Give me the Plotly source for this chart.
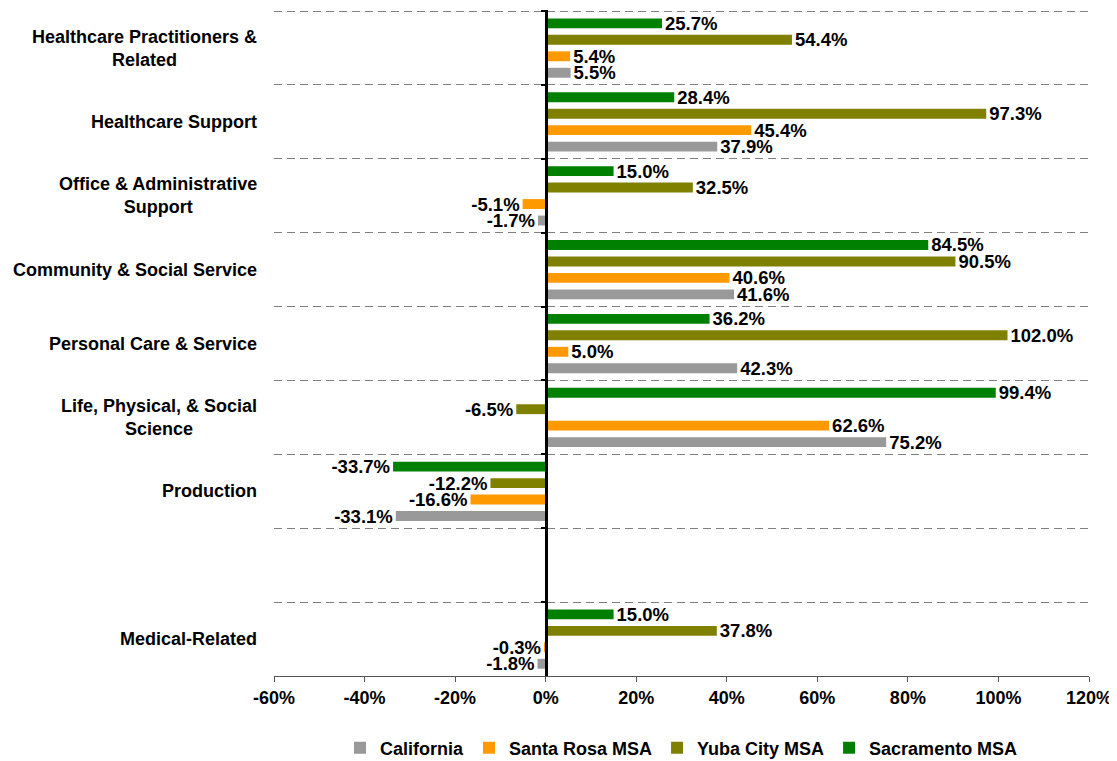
import plotly.graph_objects as go

categories = [
    "Healthcare Practitioners &<br>Related",
    "Healthcare Support",
    "Office & Administrative<br>Support",
    "Community & Social Service",
    "Personal Care & Service",
    "Life, Physical, & Social<br>Science",
    "Production",
    " ",
    "Medical-Related",
]
data_categories = [c for c in categories if c.strip()]

sacramento = [25.7, 28.4, 15.0, 84.5, 36.2, 99.4, -33.7, 15.0]
yuba_city = [54.4, 97.3, 32.5, 90.5, 102.0, -6.5, -12.2, 37.8]
santa_rosa = [5.4, 45.4, -5.1, 40.6, 5.0, 62.6, -16.6, -0.3]
california = [5.5, 37.9, -1.7, 41.6, 42.3, 75.2, -33.1, -1.8]

series = [
    ("Sacramento MSA", sacramento, "#008000"),
    ("Yuba City MSA", yuba_city, "#808000"),
    ("Santa Rosa MSA", santa_rosa, "#FF9900"),
    ("California", california, "#999999"),
]

x_ticks = [-60, -40, -20, 0, 20, 40, 60, 80, 100, 120]

FONT = "Liberation Sans, Arial, sans-serif"

fig = go.Figure()
for name, vals, color in series:
    fig.add_trace(go.Bar(
        name=name,
        x=vals,
        y=data_categories,
        orientation="h",
        marker=dict(color=color, line=dict(width=0)),
        texttemplate="%{x:.1f}%",
        textposition="outside",
        constraintext="none",
        cliponaxis=False,
        textfont=dict(family=FONT, size=18.5, color="black", weight="bold"),
    ))

for cat in data_categories:
    fig.add_annotation(
        x=-0.0184, xref="paper", y=cat, yref="y",
        text=cat,
        showarrow=False, xanchor="right", yanchor="middle", align="center",
        font=dict(family=FONT, size=18, color="black", weight="bold"),
    )

fig.update_layout(
    width=1109, height=753,
    margin=dict(l=266, r=28, t=2, b=85, autoexpand=False),
    paper_bgcolor="white", plot_bgcolor="white",
    barmode="group", bargap=0.108, bargroupgap=0.4,
    showlegend=True,
    legend=dict(
        orientation="h", x=0.5, xanchor="center",
        yref="container", y=0.0173, yanchor="middle",
        traceorder="reversed",
        font=dict(family=FONT, size=18, color="black", weight="bold"),
        itemwidth=30,
    ),
    xaxis=dict(
        range=[-60, 120], tickvals=x_ticks,
        ticktext=["%d%%" % v for v in x_ticks],
        showgrid=False, zeroline=False, automargin=False,
        showline=True, linecolor="#555555", linewidth=1,
        ticks="outside", ticklen=5, tickcolor="#555555",
        tickfont=dict(family=FONT, size=18, color="black", weight="bold"),
    ),
    yaxis=dict(
        type="category", categoryorder="array", categoryarray=categories,
        range=[8.5, -0.515],
        anchor="free", position=1 / 3, automargin=False,
        showticklabels=False,
        tickson="boundaries", ticks="outside", ticklen=4, tickwidth=2, tickcolor="black",
        showline=True, linecolor="black", linewidth=3,
        showgrid=True, gridcolor="#808080", gridwidth=1, griddash="8px,5px",
        zeroline=False,
    ),
)

fig.write_html("out.html")
